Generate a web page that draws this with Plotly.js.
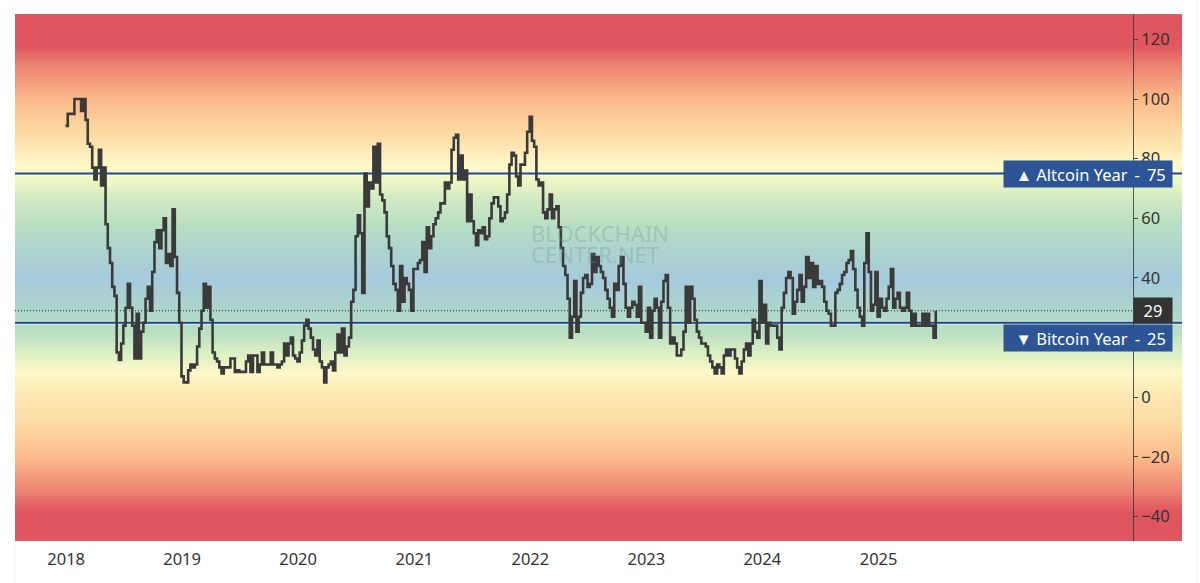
<!DOCTYPE html>
<html><head><meta charset="utf-8">
<script src="https://cdn.plot.ly/plotly-3.0.1.min.js"></script>
<style>html,body{margin:0;padding:0;background:#fff;overflow:hidden}</style>
</head><body><div id="chart" style="width:1200px;height:583px"></div>
<script>
const values2018 = [91,95,95,95,100,100,100,96,100,93,85,84,77,73,77,83,71,77,58,50,45,37,34,15,12.5,18,24,30,38,30,24,13,28,13,22,25,33,37,29,42,52,56,50,56,60,45,48,44,63,47,35,25];
const values2019 = [7,5,5,9,11,10,11,17,23,29,38,30,37,26,15,13,12,10,8,10,10,10,13,13,8.5,9,8.5,8.5,8.5,12,14,8.5,14,14,8.5,11,15,11,11,11,15,11,11,10,11,12,18,14,18,20,14,13];
const values2020 = [12,15,19,24,26,23,20,16,14,19,12,10,5,10,11,12,9,15,21,15,23,14,17,20,32,36,54,61,55,35,75,64,72,70,84,72,85,68,66,62,54,50,44,38,36,29,44,32,40,38,36,29];
const values2021 = [43,43,45,46,52,42,57,50,54,58,60,62,65,65,72,70,72,83,87,88,73,81,73,76,59,68,59,55,51,56,55,57,53,54,60,65,67,67,64,59,60,62,68,78,82,81,74,71,78,78,82,89];
const values2022 = [94,86,84,73,71,72,62,60,63,68,60,63,64,57,50,44,41,33,20,27,39,22,27,35,40,41,37,38,48,42,47,44,42,40,36,33,30,27,38,36,44,47,38,30,27,30,32,31,27,37,25,25];
const values2023 = [22,30,20,29,33,30,20,32,39,41,30,18,20,18,14,14,16,22,37,25,37,33,26,22,20,18,18,17,14,12,10,8,11,10,8,14,16,14,16,16,13,10,8,12,16,18,14,18,26,22,20,39];
const values2024 = [25,31,18,25,24,24,24,20,16,30,35,40,42,40,28,32,36,41,32,37,47,40,45,37,44,38,39,37,32,29,28,24,24,35,36,38,41,42,45,46,49,43,36,30,27,24,45,55,42,29,31,42];
const values2025 = [27,33,30,29,33,37,43,30,33,35,30,29,30,35,29,24,28,24,24,24,28,24,28,24,24,20,29];
const series = [].concat(values2018,values2019,values2020,values2021,values2022,values2023,values2024,values2025);
const dates = series.map((_,i)=>new Date(Date.UTC(2018,0,1)+(i*(365.25/52)-2)*864e5).toISOString().slice(0,10));

const altcoinLevel = 75, bitcoinLevel = 25, currentValue = 29;
const yearTicks = ["2018-01-01","2019-01-01","2020-01-01","2021-01-01","2022-01-01","2023-01-01","2024-01-01","2025-01-01"];
const yearLabels = ["2018","2019","2020","2021","2022","2023","2024","2025"];
const xRange = ["2017-07-24","2027-08-14"];
const axisDate = "2027-03-15";
const yRange = [-48.2,128.5];
const gradientStops = [128.5,118,110,100,90,78,72,66,58,50,40,30,22,14,8,2,-10,-20,-30,-38,-48.2];
const gradientColors = ["#e0565f","#e0565f","#ee8a74","#fcba8b","#fdd79f","#fff8c8","#eaf5c4","#cfe9c2","#b9dfc2","#add5cd","#a5cadc","#add5cd","#b9dfc2","#e0f1c4","#fff8c8","#fdeab5","#fdd79f","#fcba8b","#ee8a74","#e0565f","#e0565f"];

const span = yRange[1]-yRange[0];
const scale = gradientStops.map((v,i)=>[(v-yRange[0])/span,gradientColors[i]]).reverse();
scale[0][0]=0; scale[scale.length-1][0]=1;

const ink = "#3a3a3a", levelBlue = "#1c4a88", tagBlue = "#2d5596";
const traces = [
 {type:"heatmap",x:xRange,y:gradientStops,z:gradientStops.map(v=>[v,v]),zmin:yRange[0],zmax:yRange[1],colorscale:scale,zsmooth:"best",showscale:false,hoverinfo:"skip"},
 {type:"scatter",mode:"lines",x:xRange,y:[altcoinLevel,altcoinLevel],line:{color:"rgba(255,255,255,0.45)",width:4},hoverinfo:"skip"},
 {type:"scatter",mode:"lines",x:xRange,y:[bitcoinLevel,bitcoinLevel],line:{color:"rgba(255,255,255,0.45)",width:4},hoverinfo:"skip"},
 {type:"scatter",mode:"lines",x:xRange,y:[altcoinLevel,altcoinLevel],line:{color:levelBlue,width:2},hoverinfo:"skip"},
 {type:"scatter",mode:"lines",x:xRange,y:[bitcoinLevel,bitcoinLevel],line:{color:levelBlue,width:2},hoverinfo:"skip"},
 {type:"scatter",mode:"lines",x:[xRange[0],axisDate],y:[currentValue,currentValue],line:{color:"#222",width:1,dash:"1px 2px"},hoverinfo:"skip"},
 {type:"scatter",mode:"lines",x:dates,y:series,line:{color:ink,width:2.6,shape:"hv"},hoverinfo:"skip"}
];
const tagFont = {family:"Noto Sans, Open Sans, sans-serif",size:16.5,color:"#fff"};
const tickFont = {family:"Noto Sans, sans-serif",size:16.5,color:"#333"};
const markFont = {family:"Noto Sans, sans-serif",size:22,color:"rgba(105,150,150,0.32)"};
const nb = "\u00a0", thin = "\u2009";
const plotW = 1167, plotH = 527;
function px(p){return (p-15)/plotW;}
function tagText(mark,label,value){return thin+thin+mark+nb+label+nb+thin+"-"+nb+thin+value;}
const layout = {
 width:1200,height:583,margin:{l:15,r:18,t:14,b:42,pad:0},paper_bgcolor:"#fff",plot_bgcolor:"#fff",showlegend:false,
 xaxis:{type:"date",range:xRange,tickmode:"array",tickvals:yearTicks,ticktext:yearLabels,showgrid:false,zeroline:false,ticks:"",showline:false,
   tickfont:tickFont,ticklabelstandoff:6,automargin:false,fixedrange:true},
 yaxis:{range:yRange,anchor:"free",position:px(1133),side:"right",dtick:20,tick0:0,showgrid:false,zeroline:false,showline:true,linecolor:"rgba(50,50,60,0.8)",linewidth:1,
   ticks:"outside",ticklen:4,tickcolor:"#444",tickfont:tickFont,automargin:false,fixedrange:true},
 annotations:[
  {xref:"paper",yref:"y",x:px(1088),y:altcoinLevel,text:tagText("▲","Altcoin Year",altcoinLevel),showarrow:false,bgcolor:tagBlue,font:tagFont,width:168,height:26,borderpad:0,align:"center",xanchor:"center",yanchor:"middle"},
  {xref:"paper",yref:"y",x:px(1088),y:bitcoinLevel,yshift:-15,text:tagText("▼","Bitcoin Year",bitcoinLevel),showarrow:false,bgcolor:tagBlue,font:tagFont,width:168,height:26,borderpad:0,align:"center",xanchor:"center",yanchor:"middle"},
  {xref:"paper",yref:"y",x:px(1153),y:currentValue,text:String(currentValue),showarrow:false,bgcolor:"#333",font:tagFont,width:38,height:25,borderpad:0,align:"center",xanchor:"center",yanchor:"middle"},
  {xref:"paper",yref:"y",x:px(529),y:55,text:"BLOCKCHAIN",showarrow:false,font:markFont,xanchor:"left",yanchor:"middle"},
  {xref:"paper",yref:"y",x:px(529),y:48,text:"CENTER.NET",showarrow:false,font:markFont,xanchor:"left",yanchor:"middle"}
 ],
 shapes:[
  {type:"line",xref:"paper",yref:"paper",x0:0,x1:0,y0:-42/plotH,y1:0,line:{color:"#eee",width:1}},
  {type:"line",xref:"paper",yref:"paper",x0:px(1197),x1:px(1197),y0:-42/plotH,y1:1+14/plotH,line:{color:"#f0f0f0",width:1}}
 ]
};
Plotly.newPlot("chart",traces,layout,{displayModeBar:false,staticPlot:true});
</script></body></html>
